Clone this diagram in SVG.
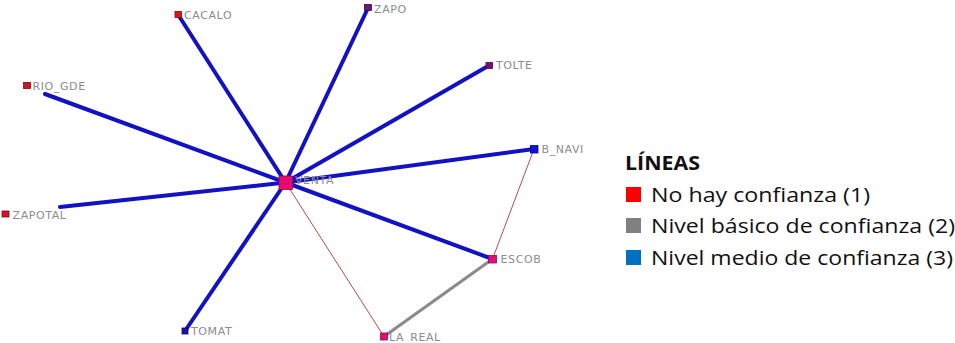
<svg xmlns="http://www.w3.org/2000/svg" width="955" height="343" viewBox="0 0 955 343">
<style>
.lbl{font-family:"DejaVu Sans","Liberation Sans",sans-serif;font-size:11px;fill:#8c8c8c;letter-spacing:0.6px}
.e3{stroke:#1212c4;stroke-width:4;stroke-linecap:round;fill:none}
.e1{stroke:#c04848;stroke-width:1;fill:none}
.e2{stroke:#8a8a8a;stroke-width:3;fill:none}
.leg{font-family:"Open Sans","Liberation Sans",sans-serif;font-size:20px;fill:#111}
.nd{stroke-width:0.8}
</style>
<rect width="955" height="343" fill="#ffffff"/>
<g id="connectors">
<line class="e3" x1="285.5" y1="182.5" x2="178" y2="14.5"/>
<line class="e3" x1="285.5" y1="182.5" x2="368" y2="8"/>
<line class="e3" x1="285.5" y1="182.5" x2="489" y2="65.5"/>
<line class="e3" x1="285.5" y1="182.5" x2="45" y2="94"/>
<line class="e3" x1="285.5" y1="182.5" x2="60" y2="207"/>
<line class="e3" x1="285.5" y1="182.5" x2="534" y2="149"/>
<line class="e3" x1="285.5" y1="182.5" x2="492.5" y2="259"/>
<line class="e3" x1="285.5" y1="182.5" x2="185" y2="331"/>
<line class="e1" x1="285.5" y1="182.5" x2="384" y2="336.5"/>
<line class="e1" x1="534" y1="149" x2="492.5" y2="259"/>
<line class="e2" x1="492.5" y1="259" x2="384" y2="336.5"/>
</g>
<g id="CACALO"><rect class="nd" x="175" y="11.5" width="6.5" height="6" fill="#dc1414" stroke="#8a0a0a"/><text class="lbl" x="184" y="18.5">CACALO</text></g>
<g id="ZAPO"><rect class="nd" x="364.5" y="4.5" width="7" height="6" fill="#6c1478" stroke="#40084a"/><text class="lbl" x="374" y="12.5">ZAPO</text></g>
<g id="TOLTE"><rect class="nd" x="486" y="62.5" width="6.5" height="6" fill="#7a1070" stroke="#480840"/><text class="lbl" x="496" y="69">TOLTE</text></g>
<g id="RIO_GDE"><rect class="nd" x="23.5" y="82.5" width="7" height="6" fill="#d01424" stroke="#800a12"/><text class="lbl" x="32.5" y="89.5">RIO_GDE</text></g>
<g id="ZAPOTAL"><rect class="nd" x="2" y="211" width="7" height="6" fill="#d01424" stroke="#800a12"/><text class="lbl" x="12.5" y="218.5">ZAPOTAL</text></g>
<g id="VENTA"><rect class="nd" x="279" y="176" width="13.5" height="13.5" fill="#e8086e" stroke="#9a0a48"/><text class="lbl" x="295" y="184">VENTA</text></g>
<g id="B_NAVI"><rect class="nd" x="530.5" y="145.5" width="7.5" height="7.5" fill="#0a14d4" stroke="#060a80"/><text class="lbl" x="541.5" y="153">B_NAVI</text></g>
<g id="ESCOB"><rect class="nd" x="488.5" y="255.5" width="8" height="7.5" fill="#dc1076" stroke="#900a4c"/><text class="lbl" x="500.5" y="263">ESCOB</text></g>
<g id="TOMAT"><rect class="nd" x="182" y="328" width="6" height="6" fill="#1818a8" stroke="#0a0a60"/><text class="lbl" x="191" y="334.5">TOMAT</text></g>
<g id="LA_REAL"><rect class="nd" x="380.5" y="333" width="7" height="7" fill="#dc1076" stroke="#900a4c"/><text class="lbl" x="389" y="340.5">LA_REAL</text></g>
<g id="legend">
<text class="leg" x="625" y="170" font-weight="bold" textLength="75" lengthAdjust="spacingAndGlyphs">LÍNEAS</text>
<rect x="626" y="187" width="15" height="15" fill="#ff0000"/>
<text class="leg" x="651" y="202" textLength="219" lengthAdjust="spacingAndGlyphs">No hay confianza (1)</text>
<rect x="626" y="218" width="15" height="15" fill="#808080"/>
<text class="leg" x="651" y="233" textLength="304" lengthAdjust="spacingAndGlyphs">Nivel básico de confianza (2)</text>
<rect x="626" y="250" width="15" height="15" fill="#0070c0"/>
<text class="leg" x="651" y="265" textLength="302" lengthAdjust="spacingAndGlyphs">Nivel medio de confianza (3)</text>
</g>
</svg>
